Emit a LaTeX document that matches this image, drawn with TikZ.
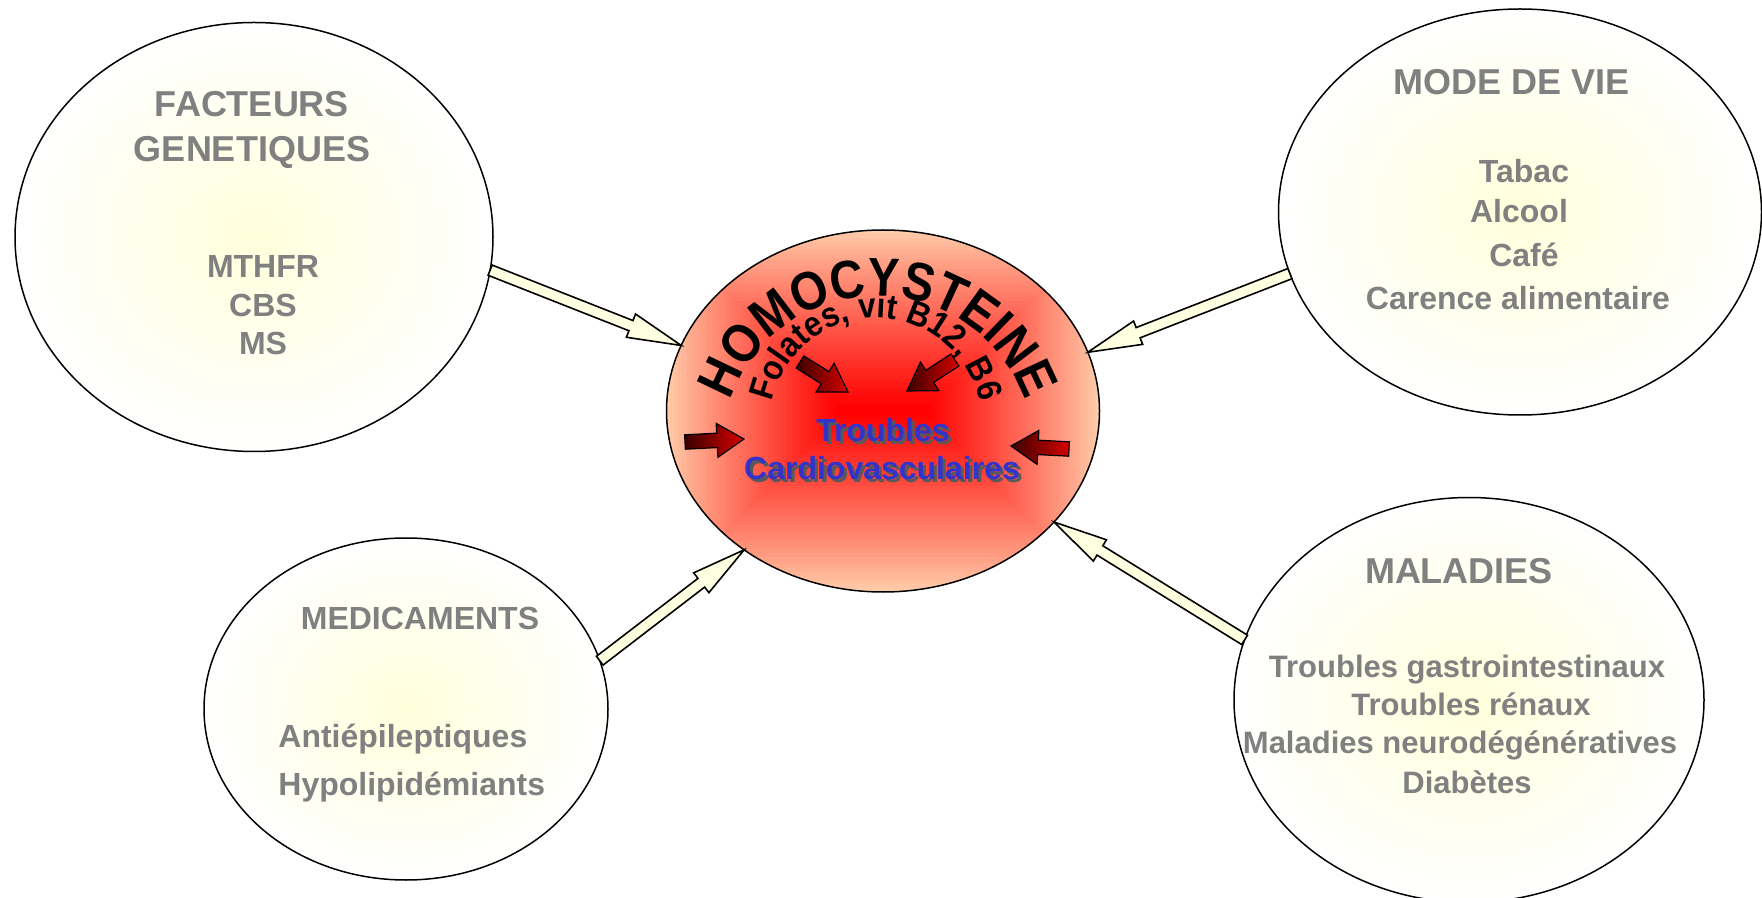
\documentclass[tikz,border=0pt]{standalone}
\usepackage{fontspec}
\setmainfont{Liberation Sans}
\newfontfamily\homf{Liberation Sans}[FakeStretch=0.88]
\newfontfamily\folf{Liberation Sans}[FakeStretch=0.9]
\usetikzlibrary{calc,shapes.geometric,decorations.text}
\definecolor{peach}{RGB}{255,204,170}
\definecolor{hred}{RGB}{255,0,0}
\definecolor{ivorya}{RGB}{255,255,225}
\definecolor{lyel}{RGB}{255,255,220}
\definecolor{txtgray}{RGB}{128,128,128}
\definecolor{tblue}{RGB}{51,51,204}
\definecolor{dred}{RGB}{60,0,0}
\definecolor{mred}{RGB}{215,0,0}
\newcommand\homfont{\homf\bfseries\fontsize{27}{30}\selectfont}
\newcommand\folfont{\folf\bfseries\fontsize{17.5}{20}\selectfont}
\newcommand\blkarrow[6][]{%
  \path ($(#3)!#6!(#2)$) coordinate (hb);
  \draw[#1] ($(#2)!#4!90:(#3)$) -- ($(hb)!#4!90:(#3)$) -- ($(hb)!#5!90:(#3)$) -- (#3)
    -- ($(hb)!#5!-90:(#3)$) -- ($(hb)!#4!-90:(#3)$) -- ($(#2)!#4!-90:(#3)$) -- cycle;}
\tikzset{
  bubble/.style={ellipse, draw, line width=0.75pt, inner sep=0pt, outer sep=0pt, inner color=lyel, outer color=white},
  hcell/.style={ellipse, draw, line width=0.75pt, inner sep=0pt, outer sep=0pt},
  whitearrow/.style={draw=black, line width=0.8pt, fill=ivorya, line join=miter},
  redarrow/.style={draw=black, line width=0.6pt, left color=dred, right color=mred, line join=miter},
  gtxt/.style={text=txtgray, inner sep=0pt, anchor=base},
  gbig/.style={gtxt, font=\bfseries\fontsize{18}{20}\selectfont},
  gmid/.style={gtxt, font=\bfseries\fontsize{16}{19}\selectfont},
  gsml/.style={gtxt, font=\bfseries\fontsize{15.5}{19}\selectfont},
  btxt/.style={inner sep=0pt, anchor=base, font=\bfseries\fontsize{16}{19}\selectfont},
}
\begin{document}
\begin{tikzpicture}[x=0.5pt,y=-0.5pt]
\useasboundingbox (0,0) rectangle (1762,898);
% central gradient
\begin{scope}
\clip (883,411) ellipse [x radius=216.5, y radius=181];
\foreach \i in {0,...,45}{
  \pgfmathsetmacro\t{\i/45}
  \pgfmathsetmacro\hw{216.5-171.5*\t}
  \pgfmathsetmacro\hh{181-177*\t}
  \pgfmathsetmacro\pc{100*(\t^0.9)}
  \fill[hred!\pc!peach] ({883-\hw},{411-\hh}) rectangle ({883+\hw},{411+\hh});
}
\end{scope}
\node[hcell, minimum width=216.5pt, minimum height=181pt] (hc) at (883,411) {};
% outer bubbles
\node[bubble, minimum width=239pt, minimum height=214.5pt] (gen) at (254,237) {};
\node[bubble, minimum width=241.5pt, minimum height=203pt] (vie) at (1520,212) {};
\node[bubble, minimum width=202pt, minimum height=171pt] (med) at (406,709) {};
\node[bubble, minimum width=235pt, minimum height=202.5pt] (mal) at (1469,700) {};
% block arrows
\coordinate (a1s) at (gen.-8.3);   \coordinate (a1e) at (hc.162);
\coordinate (a2s) at (vie.195);    \coordinate (a2e) at (hc.16.6);
\coordinate (a3s) at (med.14.7);   \coordinate (a3e) at (hc.225);
\coordinate (a4s) at (mal.165.5);  \coordinate (a4e) at (hc.-33.5);
\blkarrow[whitearrow]{a1s}{a1e}{2.75pt}{6.25pt}{27pt}
\blkarrow[whitearrow]{a2s}{a2e}{2.75pt}{6.25pt}{27pt}
\blkarrow[whitearrow]{a3s}{a3e}{2.75pt}{6.25pt}{27pt}
\blkarrow[whitearrow]{a4s}{a4e}{2.75pt}{6.25pt}{27pt}
% curved titles
\coordinate (arcA) at (878,452);
\coordinate (arcB) at (876,424);
\path[decorate, decoration={text along path, text align=center, text={|\homfont|HOMOCYSTEINE}}]
  (arcA) ++(185:156) arc[start angle=185, end angle=355, radius=156];
\path[decorate, decoration={text along path, text align=center, text={|\folfont|Folates, vit B12, B6}}]
  (arcB) ++(182:106) arc[start angle=182, end angle=358, radius=106];
% small red arrows
\coordinate (r1t) at (800,362); \coordinate (r1h) at (848,392);
\coordinate (r2t) at (955,360); \coordinate (r2h) at (907,391);
\coordinate (r3t) at (685,442); \coordinate (r3h) at (744,439);
\coordinate (r4t) at (1069,449); \coordinate (r4h) at (1011,446);
\blkarrow[redarrow]{r1t}{r1h}{3.6pt}{8.5pt}{13.5pt}
\blkarrow[redarrow]{r2t}{r2h}{3.6pt}{8.5pt}{13.5pt}
\blkarrow[redarrow]{r3t}{r3h}{3.6pt}{8.5pt}{13.5pt}
\blkarrow[redarrow]{r4t}{r4h}{3.6pt}{8.5pt}{13.5pt}
% central text with shadow
\node[btxt, text=black!65] (trs) at (886,445) {Troubles};
\node[btxt, text=black!65] (cvs) at (885,483) {Cardiovasculaires};
\node[btxt, text=tblue] (tr) at (883,442) {Troubles};
\node[btxt, text=tblue] (cv) at (882,480) {Cardiovasculaires};
% facteurs genetiques
\node[gbig] (g1) at (252,117) {FACTEURS};
\node[gbig] (g2) at (252,162) {GENETIQUES};
\node[gmid] (g3) at (263,278) {MTHFR};
\node[gmid] (g4) at (263,317) {CBS};
\node[gmid] (g5) at (263,355) {MS};
% mode de vie
\node[gbig] (v1) at (1512,95) {MODE DE VIE};
\node[gmid] (v2) at (1524,183) {Tabac};
\node[gmid] (v3) at (1519,223) {Alcool};
\node[gmid] (v4) at (1524,267) {Café};
\node[gmid] (v5) at (1518,310) {Carence alimentaire};
% medicaments
\node[gmid] (m1) at (420,629) {MEDICAMENTS};
\node[gmid, anchor=base west] (m2) at (278,747) {Antiépileptiques};
\node[gmid, anchor=base west] (m3) at (278,795) {Hypolipidémiants};
% maladies
\node[gbig] (d1) at (1459,583) {MALADIES};
\node[gsml] (d2) at (1467,677) {Troubles gastrointestinaux};
\node[gsml] (d3) at (1471,715) {Troubles rénaux};
\node[gsml] (d4) at (1460,753) {Maladies neurodégénératives};
\node[gsml] (d5) at (1467,793) {Diabètes};
\end{tikzpicture}
\end{document}
